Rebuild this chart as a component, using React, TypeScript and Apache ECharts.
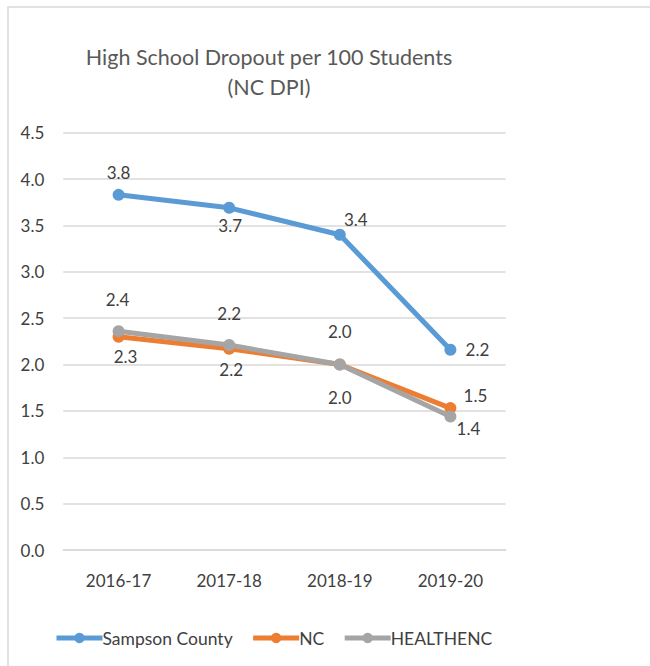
import React, { useEffect, useRef } from "react";
import * as echarts from "echarts";

const categories = ["2016-17", "2017-18", "2018-19", "2019-20"];
const sampsonCounty = [3.83, 3.69, 3.4, 2.16];
const ncState = [2.3, 2.17, 2.0, 1.53];
const healthENC = [2.36, 2.21, 2.0, 1.44];
const seriesNames = ["Sampson County", "NC", "HEALTHENC"];
const titleLines = ["High School Dropout per 100 Students", "(NC DPI)"];

const FONT = "Lato, 'Open Sans', sans-serif";
const TXT = "#404040";

// label offsets (dx, dy) relative to the point
const offsets: number[][][] = [
  [[0, -22], [1, 18], [16, -15], [27, 0]],
  [[7, 20], [2, 21], [0, 33], [25, -13]],
  [[-1, -32], [0, -32], [0, -33], [18, 12]],
];

const colors = ["#5B9BD5", "#ED7D31", "#A5A5A5"];

export default function App() {
  const ref = useRef<HTMLDivElement>(null);
  useEffect(() => {
    if (!ref.current) return;
    const chart = echarts.init(ref.current, undefined, { renderer: "svg" });
    const datasets = [sampsonCounty, ncState, healthENC];
    const series = datasets.map((vals, si) => ({
      name: seriesNames[si],
      type: "line",
      data: vals.map((v, i) => ({
        value: v,
        label: { show: true, position: "inside", offset: offsets[si][i] },
      })),
      symbol: "circle",
      symbolSize: 12,
      lineStyle: { width: 5, color: colors[si] },
      itemStyle: { color: colors[si] },
      label: {
        show: true,
        color: TXT,
        fontFamily: FONT,
        fontSize: 17,
        formatter: (p: any) => Number(p.value).toFixed(1),
      },
      z: 2 + si,
    }));
    chart.setOption({
      animation: false,
      color: colors,
      graphic: [
        {
          type: "rect",
          shape: { x: 8, y: 7, width: 700, height: 700 },
          style: { fill: "none", stroke: "#d9d9d9", lineWidth: 1.5 },
          silent: true,
          z: -10,
        },
        {
          type: "text",
          x: 269,
          y: 42,
          style: {
            text: titleLines.join("\n"),
            fontFamily: FONT,
            fontSize: 21.5,
            lineHeight: 30,
            fill: "#595959",
            align: "center",
            verticalAlign: "top",
          },
        },
      ],
      grid: { left: 63.3, right: 144.3, top: 132.7, bottom: 116, containLabel: false },
      xAxis: {
        type: "category",
        data: categories,
        boundaryGap: true,
        axisLine: { show: true, lineStyle: { color: "#d9d9d9", width: 1.5 } },
        axisTick: { show: false },
        axisLabel: { color: TXT, fontFamily: FONT, fontSize: 17, margin: 22 },
      },
      yAxis: {
        type: "value",
        min: 0,
        max: 4.5,
        interval: 0.5,
        axisLine: { show: false },
        axisTick: { show: false },
        splitLine: { lineStyle: { color: "#d9d9d9", width: 1.5 } },
        axisLabel: {
          color: TXT,
          fontFamily: FONT,
          fontSize: 17,
          margin: 19,
          formatter: (v: number) => v.toFixed(1),
        },
      },
      legend: {
        data: seriesNames,
        left: 49,
        top: 624,
        itemWidth: 46,
        itemHeight: 13,
        itemGap: 18,
        lineStyle: { width: 5 },
        textStyle: { color: TXT, fontFamily: FONT, fontSize: 17.5, padding: [0, 0, 0, -5] },
      },
      series,
    });
    return () => chart.dispose();
  }, []);
  return (
    <div
      ref={ref}
      style={{ position: "fixed", left: 0, top: 0, width: 650, height: 666, background: "#fff" }}
    />
  );
}
